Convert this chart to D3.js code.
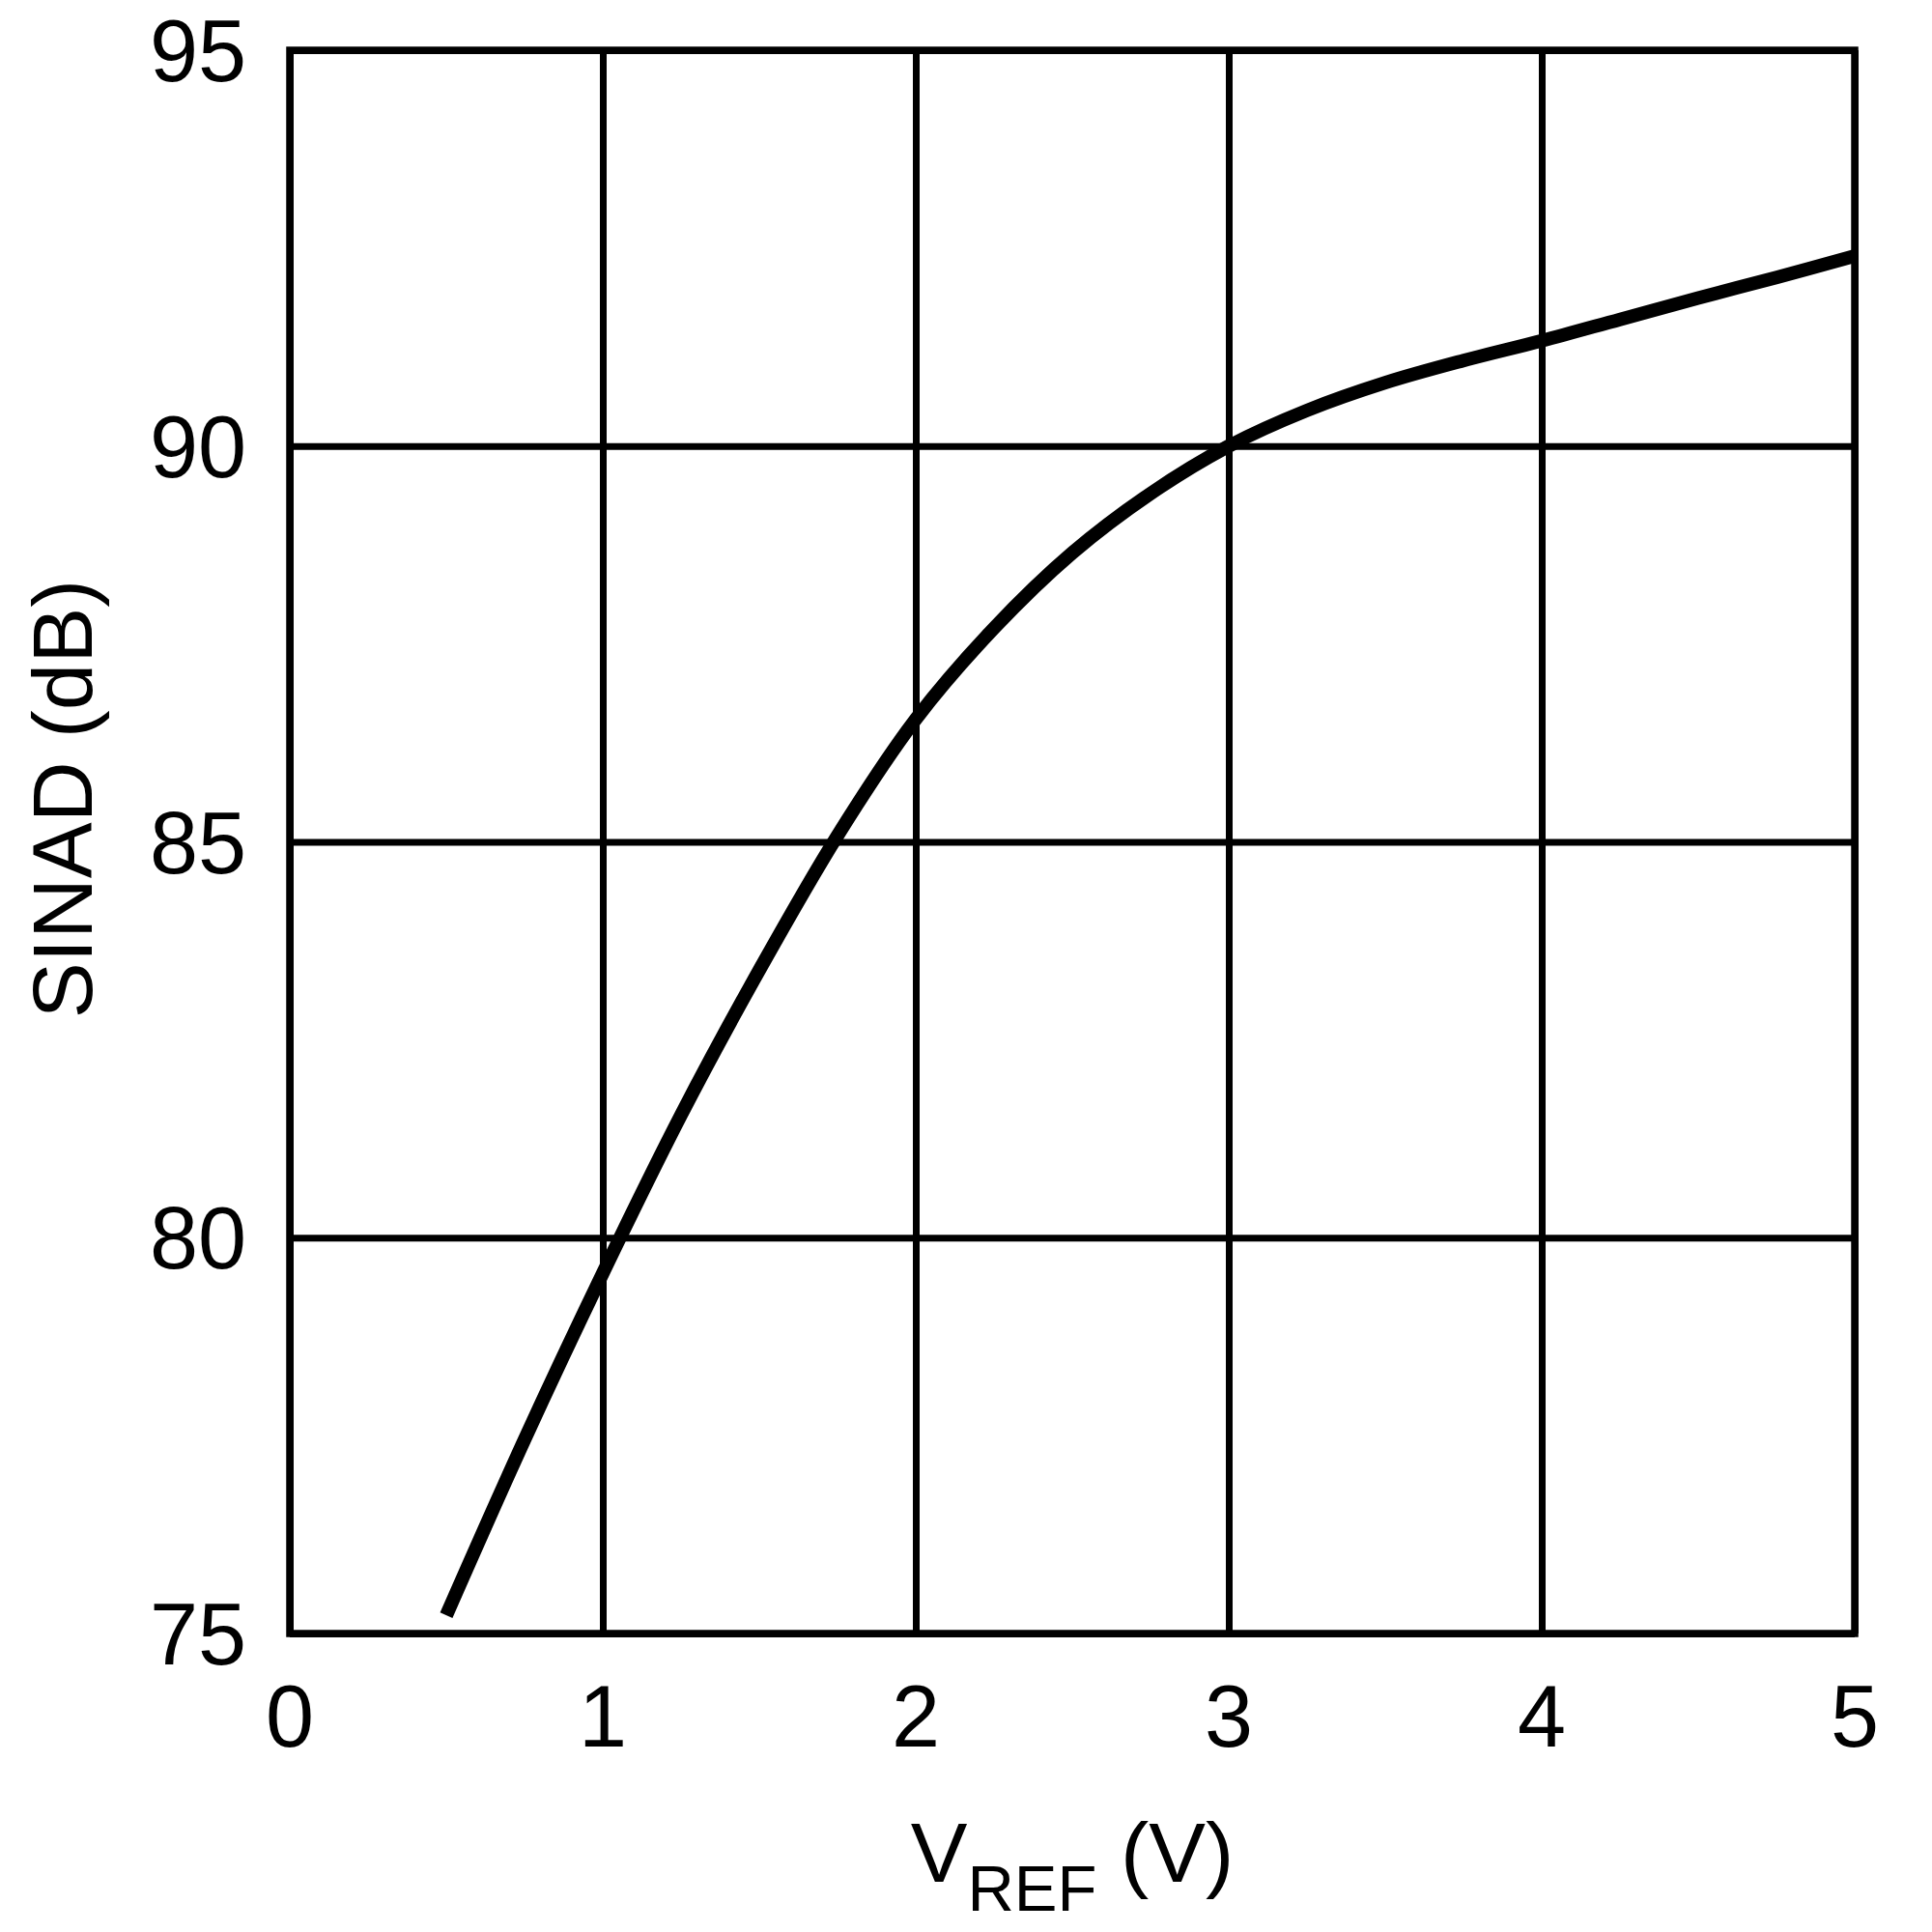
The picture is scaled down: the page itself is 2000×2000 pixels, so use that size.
<!DOCTYPE html>
<html>
<head>
<meta charset="utf-8">
<script src="https://cdn.jsdelivr.net/npm/d3@7"></script>
<style>
  body { margin: 0; background: #fff; }
  text { font-family: "Liberation Sans", Arial, sans-serif; fill: #000; }
</style>
</head>
<body>
<div id="chart"></div>
<script>
// values
var vref = [0.5, 0.75, 1.0, 1.25, 1.5, 1.75, 2.0, 2.25, 2.5, 2.75, 3.0,
            3.25, 3.5, 3.75, 4.0, 4.25, 4.5, 4.75, 5.0];
var sinad = [75.23, 77.45, 79.55, 81.55, 83.38, 85.08, 86.55, 87.7, 88.65, 89.4, 90.0,
             90.45, 90.8, 91.08, 91.33, 91.6, 91.87, 92.13, 92.4];
var xTicks = [0, 1, 2, 3, 4, 5];
var yTicks = [75, 80, 85, 90, 95];

var margin = { top: 52, right: 80, bottom: 309, left: 300 },
    width = 2000 - margin.left - margin.right,
    height = 2000 - margin.top - margin.bottom;

var svg = d3.select("#chart")
    .append("svg")
    .attr("width", 2000)
    .attr("height", 2000)
    .append("g")
    .attr("transform", "translate(" + margin.left + "," + margin.top + ")");

var xScale = d3.scaleLinear().domain([0, 5]).range([0, width]);
var yScale = d3.scaleLinear().domain([75, 95]).range([height, 0]);

// grid
svg.append("g")
    .call(d3.axisBottom(xScale).tickValues(xTicks).tickSize(height).tickFormat(""))
    .call(function(g) { g.select(".domain").remove(); })
    .selectAll("line")
    .attr("stroke", "#000")
    .attr("stroke-width", 7);

svg.append("g")
    .call(d3.axisLeft(yScale).tickValues(yTicks).tickSize(-width).tickFormat(""))
    .call(function(g) { g.select(".domain").remove(); })
    .selectAll("line")
    .attr("stroke", "#000")
    .attr("stroke-width", 7);

// frame
svg.append("rect")
    .attr("x", 0)
    .attr("y", 0)
    .attr("width", width)
    .attr("height", height)
    .attr("fill", "none")
    .attr("stroke", "#000")
    .attr("stroke-width", 7.5);

// tick labels
svg.selectAll(".ylab")
    .data(yTicks)
    .enter()
    .append("text")
    .attr("class", "ylab")
    .attr("x", -45)
    .attr("y", function(d) { return yScale(d) + 32; })
    .attr("text-anchor", "end")
    .style("font-size", "90px")
    .text(function(d) { return d; });

svg.selectAll(".xlab")
    .data(xTicks)
    .enter()
    .append("text")
    .attr("class", "xlab")
    .attr("x", function(d) { return xScale(d); })
    .attr("y", height + 117)
    .attr("text-anchor", "middle")
    .style("font-size", "90px")
    .text(function(d) { return d; });

// curve
var line = d3.line()
    .x(function(d, i) { return xScale(vref[i]); })
    .y(function(d) { return yScale(d); })
    .curve(d3.curveCatmullRom);

svg.append("path")
    .datum(sinad)
    .attr("d", line)
    .attr("fill", "none")
    .attr("stroke", "#000")
    .attr("stroke-width", 14)
    .attr("stroke-linejoin", "round");

// axis titles
svg.append("text")
    .attr("transform", "translate(" + (95 - margin.left) + "," + (827 - margin.top) + ") rotate(-90)")
    .attr("text-anchor", "middle")
    .style("font-size", "87px")
    .text("SINAD (dB)");

var xt = svg.append("text")
    .attr("x", width / 2)
    .attr("y", 1948 - margin.top)
    .attr("text-anchor", "middle")
    .style("font-size", "88px");
xt.append("tspan").text("V");
xt.append("tspan").attr("dy", 30).style("font-size", "67px").text("REF");
xt.append("tspan").attr("dy", -30).text(" (V)");
</script>
</body>
</html>
